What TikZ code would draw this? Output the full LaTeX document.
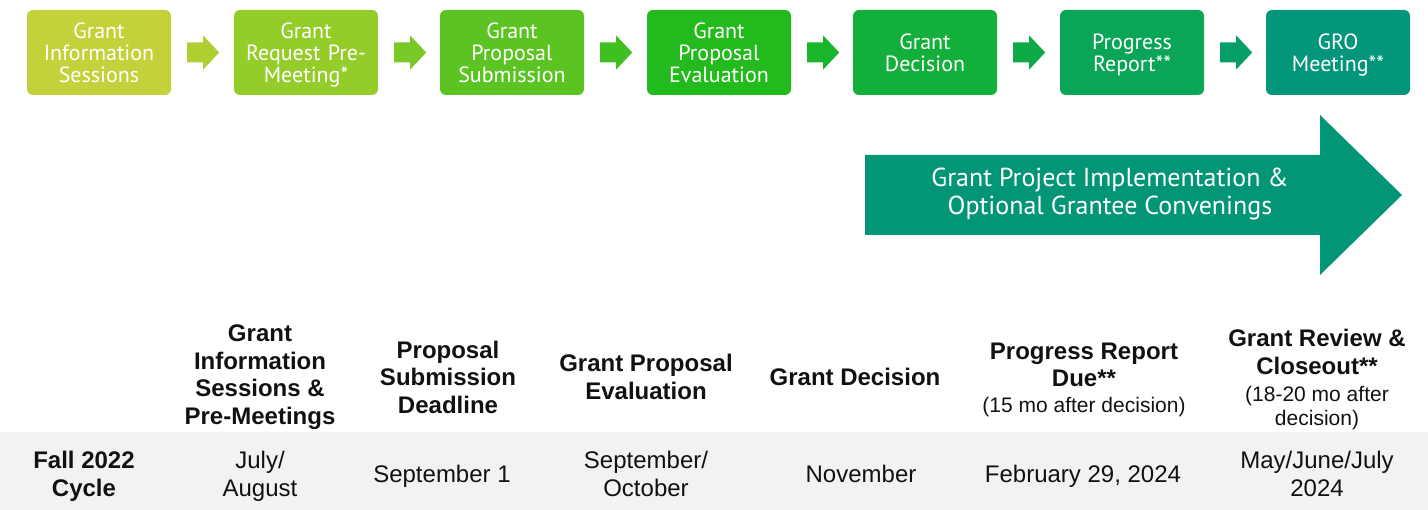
\documentclass[tikz,border=0pt]{standalone}
\usepackage{fontspec}
\setmainfont{Liberation Sans}
\newfontfamily\boxfont{PT Sans}
\usetikzlibrary{calc}
\definecolor{c1}{HTML}{C3D13B}
\definecolor{c2}{HTML}{94CC2A}
\definecolor{c3}{HTML}{5BC423}
\definecolor{c4}{HTML}{22BA1C}
\definecolor{c5}{HTML}{12B03A}
\definecolor{c6}{HTML}{0AA556}
\definecolor{c7}{HTML}{04967A}
\definecolor{a1}{HTML}{ADCF30}
\definecolor{a2}{HTML}{78C826}
\definecolor{a3}{HTML}{3FBF20}
\definecolor{a4}{HTML}{19B52B}
\definecolor{a5}{HTML}{0EAA48}
\definecolor{a6}{HTML}{079E68}
\definecolor{bigc}{HTML}{039676}
\definecolor{band}{HTML}{F2F2F2}
\definecolor{txt}{HTML}{111111}
\newcommand\nodepth[1]{\raisebox{0pt}[\height][0pt]{#1}}
\begin{document}
\begin{tikzpicture}[x=1pt,y=-1pt,
  stage/.style={rounded corners=6pt, minimum width=144pt, minimum height=85pt,
    text width=140pt, align=center, inner sep=0pt, text=white,
    font=\boxfont\fontsize{22}{22}\selectfont},
  hdr/.style={align=center, inner sep=0pt, text=txt,
    font=\bfseries\fontsize{24}{27.5}\selectfont},
  note/.style={align=center, inner sep=0pt, text=txt,
    font=\fontsize{21}{24}\selectfont},
  cell/.style={align=center, inner sep=0pt, text=txt,
    font=\fontsize{24}{28}\selectfont},
  impl/.style={align=center, inner sep=0pt, text=white,
    font=\boxfont\fontsize{26}{28}\selectfont}]
\useasboundingbox (0,0) rectangle (1428,510);

% stage boxes
\node[stage, fill=c1] (b1) at (99,52.5)   {Grant\\Information\\Sessions};
\node[stage, fill=c2] (b2) at (306,52.5)  {Grant\\Request Pre-\\\nodepth{Meeting*}};
\node[stage, fill=c3] (b3) at (512,52.5)  {Grant\\Proposal\\Submission};
\node[stage, fill=c4] (b4) at (719,52.5)  {Grant\\Proposal\\Evaluation};
\node[stage, fill=c5] (b5) at (925,52.5)  {Grant\\Decision};
\node[stage, fill=c6] (b6) at (1132,52.5) {Progress\\\nodepth{Report**}};
\node[stage, fill=c7] (b7) at (1338,52.5) {GRO\\\nodepth{Meeting**}};

% small block arrows between stages
\foreach \p/\c in {b1/a1,b2/a2,b3/a3,b4/a4,b5/a5,b6/a6}{
  \fill[\c] ($(\p.east)+(16,-10)$) -- ++(16,0) -- ++(0,-7) -- ++(16,17)
    -- ++(-16,17) -- ++(0,-7) -- ++(-16,0) -- cycle;
}

% big implementation arrow
\fill[bigc] (865,155) -- (1320,155) -- (1320,115) -- (1402,195)
  -- (1320,275) -- (1320,235) -- (865,235) -- cycle;
\node[impl] (imp) at (1110,194) {Grant Project Implementation \&\\Optional Grantee Convenings};

% table
\fill[band] (0,432) rectangle (1428,510);

\node[hdr] (h1) at (260,377) {Grant\\Information\\Sessions \&\\Pre-Meetings};
\node[hdr] (h2) at (448,377) {Proposal\\Submission\\Deadline};
\node[hdr] (h3) at (646,377) {Grant Proposal\\Evaluation};
\node[hdr] (h4) at (855,377) {Grant Decision};
\node[hdr] (h5) at (1084,365) {Progress Report\\Due**};
\node[note] (n5) at (1084,407) {(15 mo after decision)};
\node[hdr] (h6) at (1317,352) {Grant Review \&\\Closeout**};
\node[note] (n6) at (1317,408) {(18-20 mo after\\decision)};

\node[cell, font=\bfseries\fontsize{24}{28}\selectfont] (r0) at (84,476) {Fall 2022\\Cycle};
\node[cell] (r1) at (260,476) {July/\\August};
\node[cell] (r2) at (442,476) {September 1};
\node[cell] (r3) at (646,474) {September/\\October};
\node[cell] (r4) at (861,474) {November};
\node[cell] (r5) at (1083,476) {February 29, 2024};
\node[cell] (r6) at (1317,474) {May/June/July\\2024};
\end{tikzpicture}
\end{document}
